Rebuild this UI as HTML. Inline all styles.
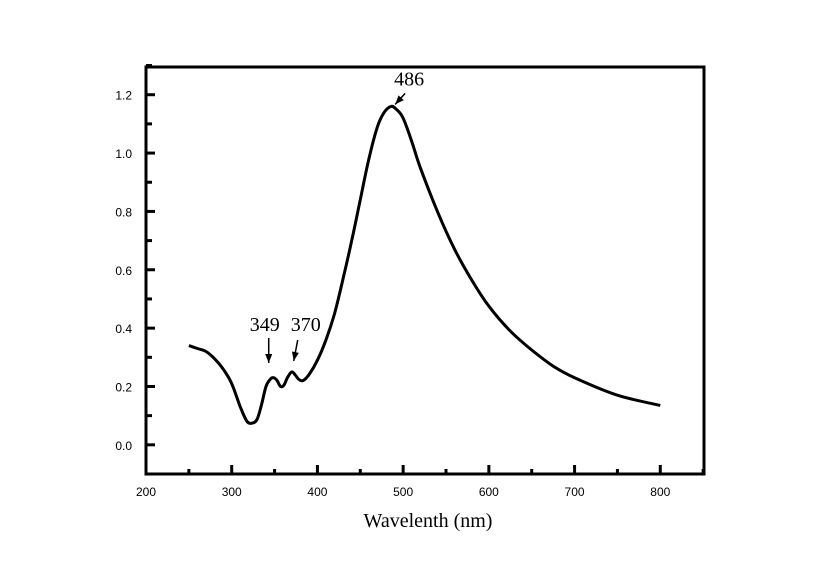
<!DOCTYPE html>
<html><head><meta charset="utf-8"><style>
body{margin:0;background:#fff;width:818px;height:568px;overflow:hidden}
svg{display:block}
.t{font-family:"Liberation Sans",sans-serif;font-size:12px;fill:#000}
.s{font-family:"Liberation Serif",serif;fill:#000}
</style></head><body>
<svg width="818" height="568">
<g id="axes"></g>
<g id="series"></g>
<g id="ann"></g>
</svg>
<script>
const wavelengths=[250,260,270,280,290,300,310,318,325,330,335,340,345,349,353,357,361,365,370,374,378,383,390,400,410,420,430,440,450,460,470,478,486,492,500,510,520,540,560,580,600,625,650,675,700,750,800];
const absorbance=[0.34,0.33,0.32,0.295,0.26,0.21,0.13,0.08,0.075,0.09,0.14,0.2,0.225,0.23,0.22,0.20,0.205,0.23,0.25,0.24,0.225,0.22,0.24,0.29,0.36,0.45,0.57,0.70,0.84,0.98,1.09,1.14,1.16,1.15,1.12,1.04,0.95,0.80,0.67,0.565,0.475,0.39,0.325,0.27,0.23,0.17,0.135];
const xTicks=[200,300,400,500,600,700,800];
const yTicks=[0.0,0.2,0.4,0.6,0.8,1.0,1.2];
const annotations=[{x:486,y:1.16,label:"486"},{x:349,y:0.23,label:"349"},{x:370,y:0.25,label:"370"}];
const X0=146,X1=704,Y0=474,Y1=67,xmin=200,xmax=851,ymin=-0.1,ymax=1.295;
const sx=v=>X0+(v-xmin)/(xmax-xmin)*(X1-X0);
const sy=v=>Y0-(v-ymin)/(ymax-ymin)*(Y0-Y1);
const NS="http://www.w3.org/2000/svg";
function mk(t,a,p){const e=document.createElementNS(NS,t);for(const k in a)e.setAttribute(k,a[k]);p.appendChild(e);return e;}
const ax=document.getElementById('axes');
const fr=mk('rect',{x:X0,y:Y1,width:X1-X0,height:Y0-Y1,fill:'none',stroke:'#000','stroke-width':3},ax);


xTicks.forEach(v=>{
  const l=mk('line',{x1:sx(v),x2:sx(v),y1:Y0,y2:Y0-9,stroke:'#000','stroke-width':3},ax);
  
  
  const m=mk('line',{x1:sx(v+50),x2:sx(v+50),y1:Y0,y2:Y0-5,stroke:'#000','stroke-width':3},ax);
  
  
  const t=mk('text',{x:sx(v),y:Y0+22,'text-anchor':'middle',class:'t'},ax);t.textContent=v;
  
  
});
yTicks.forEach(v=>{
  const l=mk('line',{x1:X0,x2:X0+9,y1:sy(v),y2:sy(v),stroke:'#000','stroke-width':3},ax);
  
  
  const m=mk('line',{x1:X0,x2:X0+6,y1:sy(v+0.1),y2:sy(v+0.1),stroke:'#000','stroke-width':3},ax);
  
  
  const t=mk('text',{x:X0-14,y:sy(v)+5,'text-anchor':'end',class:'t'},ax);t.textContent=v.toFixed(1);
  
  
});
const xt=mk('text',{x:428,y:527,'text-anchor':'middle',class:'s','font-size':20},ax);xt.textContent='Wavelenth (nm)';


const pts=wavelengths.map((w,i)=>[sx(w),sy(absorbance[i])]);
let d='M'+pts[0][0].toFixed(1)+','+pts[0][1].toFixed(1);
for(let i=0;i<pts.length-1;i++){
  const p0=pts[Math.max(i-1,0)],p1=pts[i],p2=pts[i+1],p3=pts[Math.min(i+2,pts.length-1)];
  const c1=[p1[0]+(p2[0]-p0[0])/6,p1[1]+(p2[1]-p0[1])/6];
  const c2=[p2[0]-(p3[0]-p1[0])/6,p2[1]-(p3[1]-p1[1])/6];
  d+=`C${c1[0].toFixed(1)},${c1[1].toFixed(1)} ${c2[0].toFixed(1)},${c2[1].toFixed(1)} ${p2[0].toFixed(1)},${p2[1].toFixed(1)}`;
}
const p=mk('path',{d:d,fill:'none',stroke:'#000','stroke-width':3,'stroke-linejoin':'round'},document.getElementById('series'));


const an=document.getElementById('ann');
annotations.forEach(a=>{
  const px=sx(a.x),py=sy(a.y);
  let tx,ty,ax1,ay1,ax2,ay2;
  if(a.label==='486'){tx=px+18;ty=py-21;ax1=px+14;ay1=py-13;ax2=px+4;ay2=py-2;}
  else if(a.label==='349'){tx=px-9;ty=331;ax1=px-5;ay1=338;ax2=px-5;ay2=363;}
  else{tx=px+14;ty=331;ax1=px+6;ay1=340;ax2=px+2;ay2=361;}
  const t=mk('text',{x:tx,y:ty,'text-anchor':'middle',class:'s','font-size':20},an);t.textContent=a.label;
  
  
  const l=mk('line',{x1:ax1,y1:ay1,x2:ax2,y2:ay2,stroke:'#000','stroke-width':1.5},an);
  
  
  const ang=Math.atan2(ay2-ay1,ax2-ax1),L=9,W=3.5;
  const bx=ax2-L*Math.cos(ang),by=ay2-L*Math.sin(ang);
  const h=mk('polygon',{points:`${ax2},${ay2} ${bx-W*Math.sin(ang)},${by+W*Math.cos(ang)} ${bx+W*Math.sin(ang)},${by-W*Math.cos(ang)}`,fill:'#000'},an);
  
  
});
</script>
</body></html>
